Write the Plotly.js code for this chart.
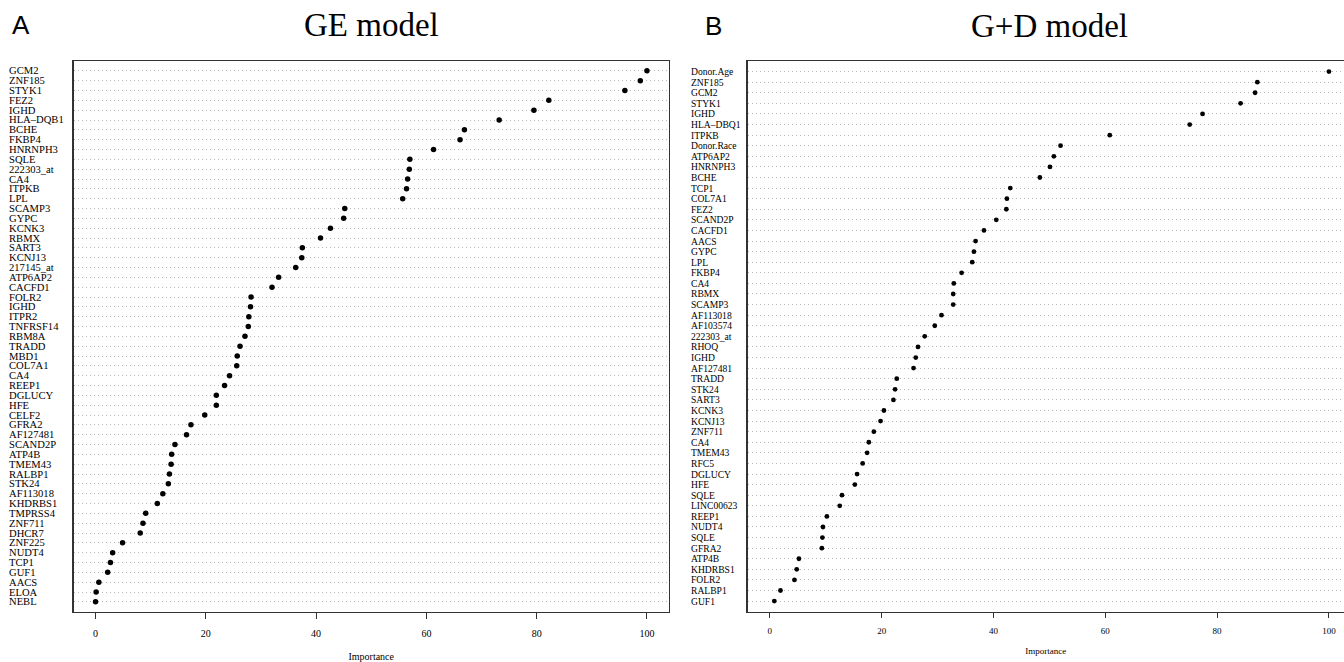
<!DOCTYPE html>
<html>
<head>
<meta charset="utf-8">
<script src="https://cdn.plot.ly/plotly-3.0.1.min.js"></script>
<style>html,body{margin:0;padding:0;background:#fff;overflow:hidden}</style>
</head>
<body>
<div id="chart" style="width:1344px;height:662px"></div>
<script>
// ---- Panel A: GE model ----
const geGenes = ["GCM2","ZNF185","STYK1","FEZ2","IGHD","HLA–DQB1","BCHE","FKBP4","HNRNPH3","SQLE",
  "222303_at","CA4","ITPKB","LPL","SCAMP3","GYPC","KCNK3","RBMX","SART3","KCNJ13",
  "217145_at","ATP6AP2","CACFD1","FOLR2","IGHD","ITPR2","TNFRSF14","RBM8A","TRADD","MBD1",
  "COL7A1","CA4","REEP1","DGLUCY","HFE","CELF2","GFRA2","AF127481","SCAND2P","ATP4B",
  "TMEM43","RALBP1","STK24","AF113018","KHDRBS1","TMPRSS4","ZNF711","DHCR7","ZNF225","NUDT4",
  "TCP1","GUF1","AACS","ELOA","NEBL"];
const geImportance = [100,98.8,96.0,82.2,79.5,73.2,66.9,66.1,61.3,57.0,
  56.9,56.6,56.4,55.7,45.2,45.0,42.6,40.8,37.5,37.4,
  36.3,33.2,32.0,28.2,28.1,27.8,27.7,27.1,26.2,25.7,
  25.6,24.3,23.4,21.9,21.9,19.8,17.3,16.5,14.4,13.8,
  13.7,13.4,13.2,12.2,11.2,9.1,8.6,8.1,4.9,3.1,
  2.7,2.2,0.6,0.1,0];

// ---- Panel B: G+D model ----
const gdGenes = ["Donor.Age","ZNF185","GCM2","STYK1","IGHD","HLA–DBQ1","ITPKB","Donor.Race","ATP6AP2","HNRNPH3",
  "BCHE","TCP1","COL7A1","FEZ2","SCAND2P","CACFD1","AACS","GYPC","LPL","FKBP4",
  "CA4","RBMX","SCAMP3","AF113018","AF103574","222303_at","RHOQ","IGHD","AF127481","TRADD",
  "STK24","SART3","KCNK3","KCNJ13","ZNF711","CA4","TMEM43","RFC5","DGLUCY","HFE",
  "SQLE","LINC00623","REEP1","NUDT4","SQLE","GFRA2","ATP4B","KHDRBS1","FOLR2","RALBP1",
  "GUF1"];
const gdImportance = [100,87.2,86.8,84.2,77.4,75.1,60.8,52.0,50.8,50.1,
  48.3,43.0,42.4,42.3,40.5,38.3,36.8,36.5,36.2,34.3,
  32.9,32.8,32.8,30.7,29.5,27.7,26.5,26.1,25.7,22.7,
  22.4,22.1,20.4,19.8,18.6,17.7,17.4,16.6,15.6,15.2,
  12.9,12.5,10.2,9.5,9.4,9.3,5.2,4.8,4.4,1.9,
  0.8];

const panelTitles = ["GE model", "G+D model"];
const panelLetters = ["A", "B"];
const xTicks = [0, 20, 40, 60, 80, 100];
const xTitle = "Importance";

const W = 1344, H = 662;
const serif = "Liberation Serif, Times New Roman, serif";
const sans = "Liberation Sans, Arial, sans-serif";

function rowsY(arr) { return arr.map((_, i) => arr.length - i); }

const traces = [
  { type: "scatter", mode: "markers", x: geImportance, y: rowsY(geGenes), xaxis: "x", yaxis: "y",
    marker: { color: "#000", size: 5.5 }, text: geGenes, hoverinfo: "text+x" },
  { type: "scatter", mode: "markers", x: gdImportance, y: rowsY(gdGenes), xaxis: "x2", yaxis: "y2",
    marker: { color: "#000", size: 4.8 }, text: gdGenes, hoverinfo: "text+x" }
];

const yDom = [1 - 611.7 / H, 1 - 61 / H];
const lineCol = "#333";
const gridCol = "#b8b8b8";

function xAxis(domain, range, anchor, fs, ticklen, lblStand, standoff, tfs) {
  return {
    domain: domain, range: range, anchor: anchor,
    tickmode: "array", tickvals: xTicks, ticks: "outside", ticklen: ticklen, tickcolor: lineCol, tickwidth: 1,
    ticklabelstandoff: lblStand,
    showline: true, mirror: true, linecolor: lineCol, linewidth: 1.3,
    showgrid: false, zeroline: false, automargin: false,
    tickfont: { family: serif, size: fs, color: "#000" },
    title: { text: xTitle, font: { family: serif, size: tfs, color: "#000" }, standoff: standoff }
  };
}
function yAxis(range, anchor, mirror) {
  const n = range[1] - 1;
  const tv = [];
  for (let i = 1; i <= n; i++) tv.push(i);
  return {
    domain: yDom, range: range, anchor: anchor,
    tickmode: "array", tickvals: tv, showticklabels: false, ticks: "",
    showgrid: true, gridcolor: gridCol, gridwidth: 1, griddash: "1px,3px",
    showline: true, mirror: mirror, linecolor: lineCol, linewidth: 1.3,
    zeroline: false, automargin: false
  };
}

const annotations = [];
geGenes.forEach((g, i) => annotations.push({
  xref: "paper", yref: "y", x: 8 / W, y: geGenes.length - i, xanchor: "left", yanchor: "middle",
  text: g, showarrow: false, borderpad: 0, font: { family: serif, size: 10.6, color: "#000" }
}));
gdGenes.forEach((g, i) => annotations.push({
  xref: "paper", yref: "y2", x: 690 / W, y: gdGenes.length - i, xanchor: "left", yanchor: "middle",
  text: g, showarrow: false, borderpad: 0, font: { family: serif, size: 9.6, color: "#000" }
}));
// Panel titles
annotations.push({ xref: "x", yref: "paper", x: 50, y: 1 - 25 / H, xanchor: "center", yanchor: "middle",
  text: panelTitles[0], showarrow: false, font: { family: serif, size: 33, color: "#000" } });
annotations.push({ xref: "x2", yref: "paper", x: 50, y: 1 - 26 / H, xanchor: "center", yanchor: "middle",
  text: panelTitles[1], showarrow: false, font: { family: serif, size: 33, color: "#000" } });
// Panel letters
annotations.push({ xref: "paper", yref: "paper", x: 20.5 / W, y: 1 - 25.5 / H, xanchor: "center", yanchor: "middle",
  text: panelLetters[0], showarrow: false, font: { family: sans, size: 26, color: "#000" } });
annotations.push({ xref: "paper", yref: "paper", x: 713.5 / W, y: 1 - 26 / H, xanchor: "center", yanchor: "middle",
  text: panelLetters[1], showarrow: false, font: { family: sans, size: 26, color: "#000" } });

const layout = {
  width: W, height: H,
  margin: { l: 0, r: 0, t: 0, b: 0 },
  paper_bgcolor: "#fff", plot_bgcolor: "#fff",
  showlegend: false,
  xaxis: xAxis([73.5 / W, 669 / W], [-4, 104], "y", 10, 6, 6, 16, 10),
  yaxis: yAxis([0, geGenes.length + 1], "x", true),
  xaxis2: xAxis([747.5 / W, 1], [-4, 102.7], "y2", 9, 5, 5, 13, 9),
  yaxis2: yAxis([0, gdGenes.length + 1], "x2", false),
  annotations: annotations
};

Plotly.newPlot("chart", traces, layout, { displayModeBar: false, staticPlot: true });
</script>
</body>
</html>
